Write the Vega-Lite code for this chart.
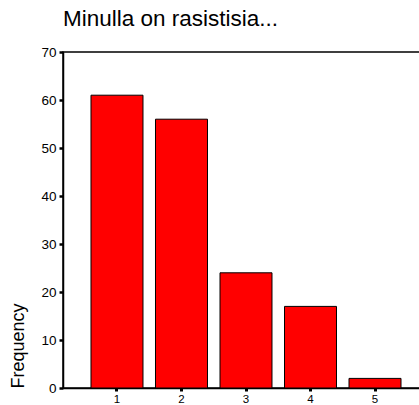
{
  "$schema": "https://vega.github.io/schema/vega-lite/v6.json",
  "autosize": "none",
  "padding": {"left": 63, "top": 52, "right": 0, "bottom": 17},
  "width": 366,
  "height": 336,
  "title": {
    "text": "Minulla on rasistisia...",
    "anchor": "start",
    "frame": "group",
    "baseline": "bottom",
    "offset": 20,
    "dy": 28,
    "font": "Liberation Sans",
    "fontSize": 22.5,
    "fontWeight": "normal",
    "color": "#000000"
  },
  "data": {
    "values": [
      {"answer": "1", "count": 61},
      {"answer": "2", "count": 56},
      {"answer": "3", "count": 24},
      {"answer": "4", "count": 17},
      {"answer": "5", "count": 2}
    ]
  },
  "mark": {"type": "bar", "fill": "#ff0000", "stroke": "#000000", "strokeWidth": 1},
  "encoding": {
    "x": {
      "field": "answer",
      "type": "ordinal",
      "scale": {"paddingInner": 0.194, "paddingOuter": 0.434},
      "axis": {
        "title": null,
        "labelAngle": 0,
        "labelFontSize": 11.5,
        "tickSize": 3,
        "tickWidth": 3,
        "labelPadding": 2
      }
    },
    "y": {
      "field": "count",
      "type": "quantitative",
      "scale": {"domain": [0, 70], "nice": false},
      "axis": {
        "title": "Frequency",
        "values": [0, 10, 20, 30, 40, 50, 60, 70],
        "grid": false,
        "tickSize": 4,
        "tickWidth": 2.5,
        "labelPadding": 3,
        "titleAnchor": "start",
        "titleAngle": -90,
        "titleAlign": "left",
        "titleBaseline": "middle",
        "titleX": -45,
        "titleY": 336,
        "titleFontSize": 18
      }
    }
  },
  "config": {
    "view": {"stroke": "#000000", "strokeWidth": 1.5},
    "axis": {
      "domainColor": "#000000",
      "domainWidth": 1.5,
      "tickColor": "#000000",
      "labelColor": "#000000",
      "labelFont": "Liberation Sans",
      "labelFontSize": 13.5,
      "titleFont": "Liberation Sans",
      "titleFontWeight": "normal",
      "titleColor": "#000000"
    }
  }
}
